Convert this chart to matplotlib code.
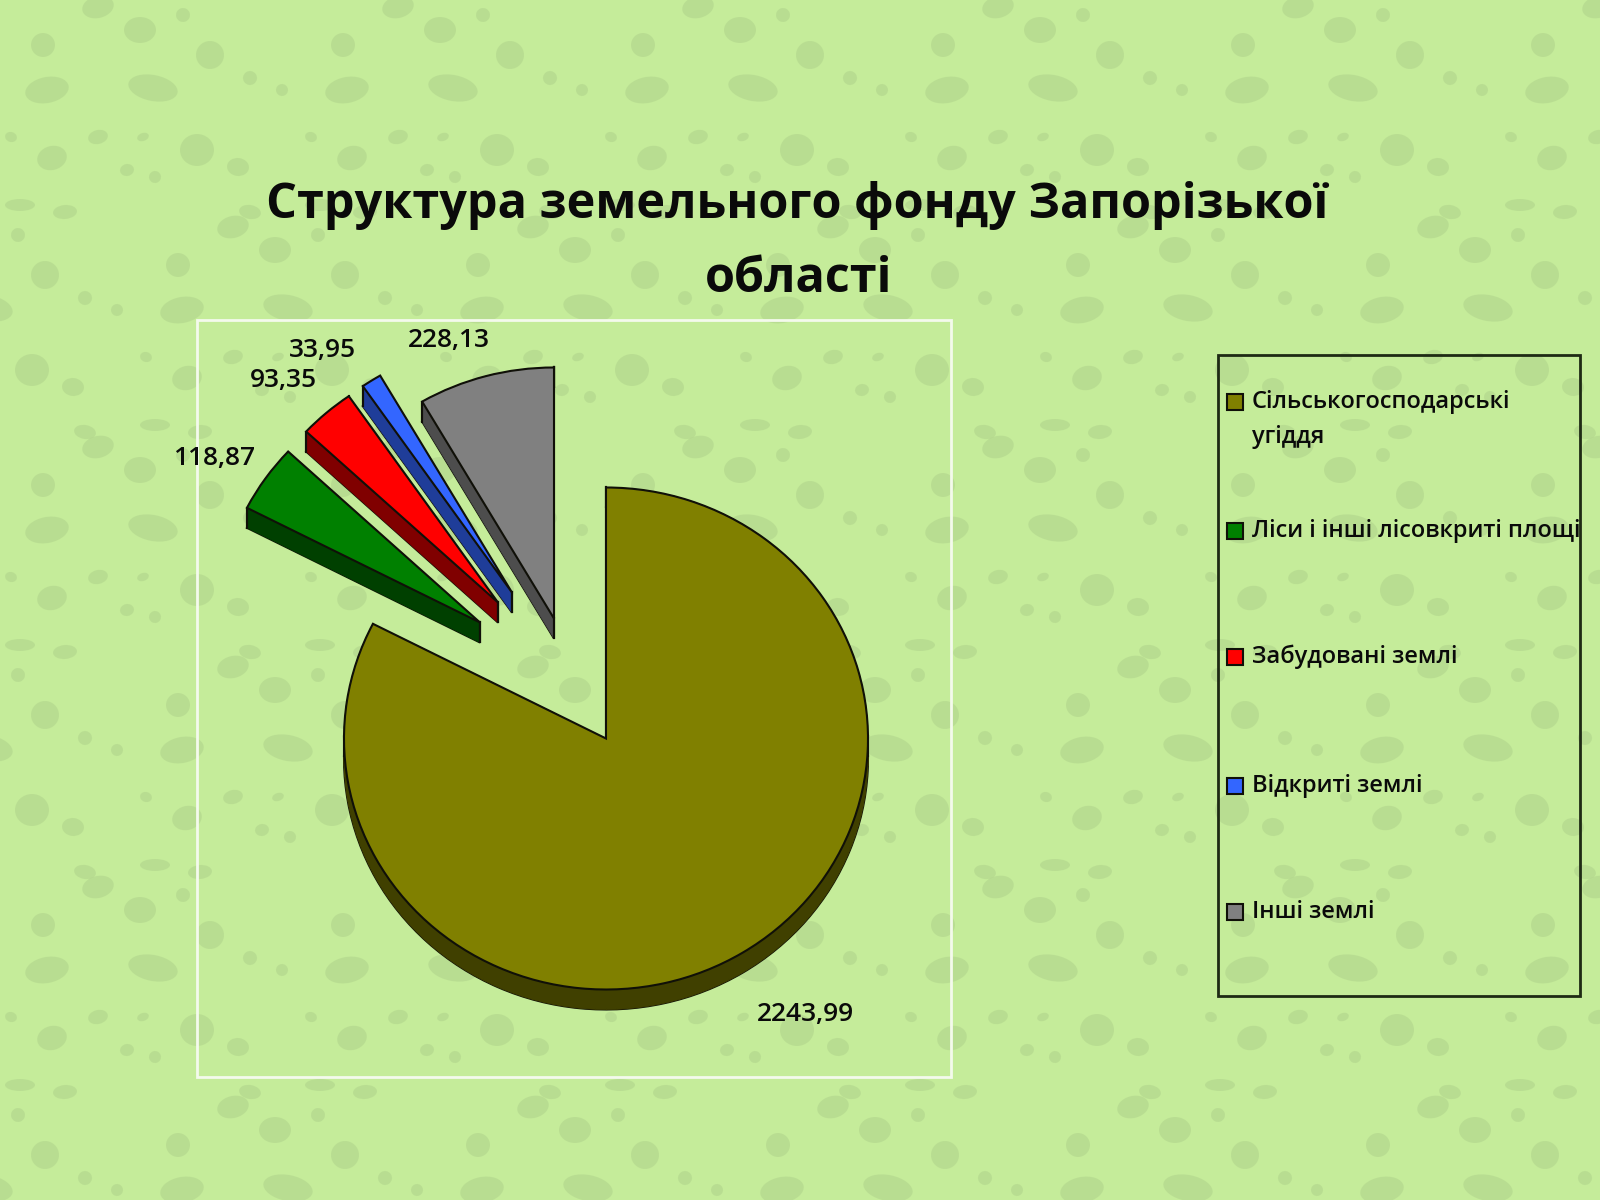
import numpy as np
import matplotlib
matplotlib.use("Agg")
import matplotlib.pyplot as plt
from matplotlib.patches import Polygon, Rectangle, Ellipse

plt.rcParams['font.family'] = ['Open Sans', 'Noto Sans', 'DejaVu Sans']

# Data
categories = ["Сільськогосподарські\nугіддя", "Ліси і інші лісовкриті площі",
              "Забудовані землі", "Відкриті землі", "Інші землі"]
values = [2243.99, 118.87, 93.35, 33.95, 228.13]
title = "Структура земельного фонду Запорізької\nобласті"

colors = ["#808000", "#008000", "#FF0000", "#3366FF", "#808080"]
side_colors = ["#404000", "#004000", "#800000", "#1F3D99", "#4D4D4D"]

# Layout, in pixels of the 1600x1200 picture
W, H = 1600, 1200
cx, cy = 606, 738.5
rx, ry = 262, 251
depth = 20
slice_shift = [(0, 0), (-126, -116), (-108, -136), (-94, -146), (-52, -120)]
label_pos = [(805, 1015), (214, 458), (283, 381), (323, 351), (449, 340)]
legend_y = [402, 531, 657, 786, 912]
bg_color = "#C5EC9A"
blob_color = "#AFD28B"

# Background speckle: one tile (x, y, w, h) repeated over the slide
tile_w, tile_h = 300, 220
tile = [(140, 30, 32, 26), (43, 45, 24, 24), (210, 55, 28, 28), (47, 90, 44, 26),
        (153, 88, 50, 26), (52, 158, 30, 24), (197, 150, 34, 32), (238, 167, 22, 18),
        (98, 137, 20, 14), (98, 7, 32, 22), (183, 15, 14, 14), (250, 78, 14, 14),
        (11, 137, 12, 10), (143, 137, 12, 8), (282, 90, 12, 12), (127, 170, 14, 12),
        (155, 177, 12, 12), (20, 205, 30, 12), (65, 212, 24, 14), (250, 212, 22, 14)]

fig = plt.figure(figsize=(16, 12), dpi=100, facecolor=bg_color)

# Pixel axes for background and frames
bg = fig.add_axes([0, 0, 1, 1])
bg.set_xlim(0, W)
bg.set_ylim(H, 0)
bg.axis("off")
for j in range(H // tile_h + 1):
    for i in range(-1, W // tile_w + 1):
        # every other row is staggered so the tile shows less
        off = (j % 2) * tile_w * 0.45
        for x, y, w, h in tile:
            bg.add_patch(Ellipse((x + i * tile_w + off, y + j * tile_h), w, h, angle=(x * 7) % 40 - 20,
                                 color=blob_color, lw=0, alpha=0.55))

bg.add_patch(Rectangle((197, 320), 754, 757, fill=False, ec="#F4FAEC", lw=2))
bg.add_patch(Rectangle((1218, 355), 362, 641, fill=False, ec="#1E2A14", lw=2))

# Pie axes, one data unit is one radius
ax = fig.add_axes([0, 0, 1, 1])
ax.patch.set_alpha(0)
wedges, _ = ax.pie(values, colors=colors, startangle=90, counterclock=False,
                   wedgeprops=dict(edgecolor="#101008", linewidth=1.5, zorder=5))
ax.set_aspect("auto")
ax.set_xlim(-cx / rx, (W - cx) / rx)
ax.set_ylim(-(H - cy) / ry, cy / ry)
ax.axis("off")

dz = depth / ry
for k, wedge in enumerate(wedges):
    sx, sy = slice_shift[k]
    wedge.set_center((sx / rx, -sy / ry))
    # flatten outline to build the extruded side
    poly = wedge.get_path().to_polygons(ax.transData)[0]
    poly = ax.transData.inverted().transform(poly)
    low = poly - [0, dz]
    ax.add_patch(Polygon(low, closed=True, fc=side_colors[k], ec="#101008", lw=1.5, zorder=2))
    for a, b, c, d in zip(poly[:-1], poly[1:], low[1:], low[:-1]):
        ax.add_patch(Polygon([a, b, c, d], closed=True, fc=side_colors[k], ec=side_colors[k], lw=0.5, zorder=3))
    # vertical side edges at the corners and extremes, top face hides the rest
    corners = [poly[0], poly[-2], poly[-3], poly[np.argmin(poly[:, 0])], poly[np.argmax(poly[:, 0])]]
    corners += [p for p in poly if abs(p[0] - wedge.center[0]) < 1e-6]
    for p in corners:
        ax.plot([p[0], p[0]], [p[1], p[1] - dz], color="#101008", lw=1.5, zorder=4)

# Texts
bg_text = fig.add_axes([0, 0, 1, 1])
bg_text.set_xlim(0, W)
bg_text.set_ylim(H, 0)
bg_text.axis("off")

line1, line2 = title.split("\n")
bg_text.text(797, 205, line1, fontsize=35, fontweight="bold", color="#0A0A0A", ha="center", va="center")
bg_text.text(799, 279, line2, fontsize=35, fontweight="bold", color="#0A0A0A", ha="center", va="center")

for v, (x, y) in zip(values, label_pos):
    bg_text.text(x, y, f"{v:.2f}".replace(".", ","), fontsize=19, fontweight="semibold",
                 color="#0A0A0A", ha="center", va="center")

for name, y, col in zip(categories, legend_y, colors):
    bg_text.add_patch(Rectangle((1227, y - 8), 16, 16, fc=col, ec="#101008", lw=1.5))
    for n, part in enumerate(name.split("\n")):
        bg_text.text(1252, y + n * 35, part, fontsize=17, fontweight="semibold",
                     color="#0A0A0A", ha="left", va="center")

fig.savefig("out.png", dpi=100, facecolor=bg_color)
